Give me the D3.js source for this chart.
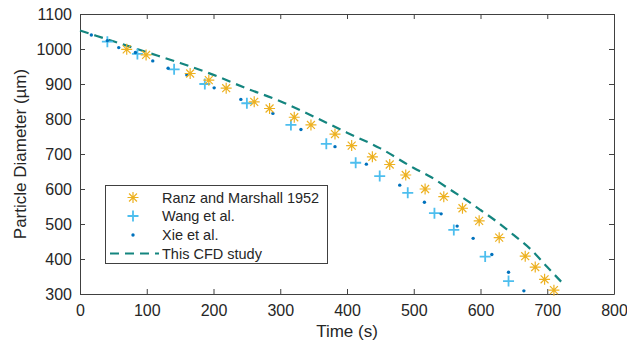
<!DOCTYPE html>
<html>
<head>
<meta charset="utf-8">
<script src="https://cdn.jsdelivr.net/npm/d3@7"></script>
<style>
  body { margin: 0; background: #fff; }
  text { font-family: "Liberation Sans", Arial, sans-serif; fill: #262626; }
  .axis path, .axis line { stroke: #404040; }
</style>
</head>
<body>
<div id="chart"></div>
<script>
// Ranz and Marshall 1952
var ranzT = [70, 99, 165, 193, 219, 261, 284, 321, 346, 382, 407, 438, 464, 488, 517, 545, 573, 598, 628, 667, 682, 696, 710];
var ranzD = [999, 983, 930, 911, 888, 849, 830, 805, 783, 757, 724, 692, 670, 640, 600, 578, 545, 509, 461, 408, 377, 342, 311];
// Wang et al.
var wangT = [41, 86, 141, 187, 250, 316, 369, 413, 449, 491, 531, 560, 607, 642];
var wangD = [1021, 986, 942, 900, 845, 783, 729, 675, 637, 589, 531, 483, 407, 337];
// Xie et al.
var xieT = [17, 41, 58, 83, 109, 132, 160, 201, 241, 289, 331, 382, 429, 479, 516, 541, 565, 589, 617, 642, 665];
var xieD = [1040, 1024, 1004, 990, 966, 945, 926, 889, 856, 816, 770, 721, 671, 611, 562, 529, 494, 459, 413, 362, 309];
// This CFD study
var cfdT = [0, 50, 100, 150, 200, 250, 300, 350, 400, 450, 500, 525, 550, 575, 600, 625, 650, 675, 700, 722];
var cfdD = [1053, 1022, 991, 960, 926, 887, 851, 807, 761, 716, 660, 635, 604, 573, 540, 506, 468, 428, 377, 333];

var xTicks = [0, 100, 200, 300, 400, 500, 600, 700, 800];
var yTicks = [300, 400, 500, 600, 700, 800, 900, 1000, 1100];
var legendLabels = ["Ranz and Marshall 1952", "Wang et al.", "Xie et al.", "This CFD study"];

var colors = { ranz: "#EDB120", wang: "#4DBEEE", xie: "#0072BD", cfd: "#14857f" };

var margin = {top: 14, right: 13, bottom: 50, left: 80},
    width = 627 - margin.left - margin.right,
    height = 344 - margin.top - margin.bottom;

var x = d3.scaleLinear().domain([0, 800]).range([0, width]);
var y = d3.scaleLinear().domain([300, 1100]).range([height, 0]);

var svg = d3.select("#chart").append("svg")
    .attr("width", 627)
    .attr("height", 344)
  .append("g")
    .attr("transform", "translate(" + margin.left + "," + margin.top + ")");

// axes, ticks pointing inward, box on
svg.append("g")
    .attr("class", "axis")
    .attr("transform", "translate(0," + height + ")")
    .call(d3.axisBottom(x).tickValues(xTicks).tickFormat(d3.format("d")).tickSizeInner(-5).tickSizeOuter(0).tickPadding(11))
    .call(function(g) { g.selectAll("text").style("font-size", "16px"); });

svg.append("g")
    .attr("class", "axis")
    .call(d3.axisLeft(y).tickValues(yTicks).tickFormat(d3.format("d")).tickSizeInner(-5).tickSizeOuter(0).tickPadding(8))
    .call(function(g) { g.selectAll("text").style("font-size", "16px"); });

svg.append("g")
    .attr("class", "axis")
    .call(d3.axisTop(x).tickValues(xTicks).tickSizeInner(-5).tickSizeOuter(0).tickFormat(""));

svg.append("g")
    .attr("class", "axis")
    .attr("transform", "translate(" + width + ",0)")
    .call(d3.axisRight(y).tickValues(yTicks).tickSizeInner(-5).tickSizeOuter(0).tickFormat(""));

svg.append("text")
    .attr("x", width / 2)
    .attr("y", height + 42.5)
    .attr("text-anchor", "middle")
    .style("font-size", "17px")
    .text("Time (s)");

svg.append("text")
    .attr("transform", "rotate(-90)")
    .attr("x", -height / 2)
    .attr("y", -54)
    .attr("text-anchor", "middle")
    .style("font-size", "17px")
    .text("Particle Diameter (\u00b5m)");

// marker shapes
function asterisk(r) {
  var d = r * 0.72;
  return "M" + (-r) + ",0L" + r + ",0M0," + (-r) + "L0," + r +
         "M" + (-d) + "," + (-d) + "L" + d + "," + d +
         "M" + (-d) + "," + d + "L" + d + "," + (-d);
}
function plus(r) {
  return "M" + (-r) + ",0L" + r + ",0M0," + (-r) + "L0," + r;
}

var plot = svg.append("g");

// CFD line
var line = d3.line()
    .x(function(d, i) { return x(cfdT[i]); })
    .y(function(d) { return y(d); })
    .curve(d3.curveMonotoneX);

plot.append("path")
    .datum(cfdD)
    .attr("d", line)
    .attr("fill", "none")
    .attr("stroke", colors.cfd)
    .attr("stroke-width", 2.2)
    .attr("stroke-dasharray", "9,6");

plot.selectAll(".wang")
    .data(wangD)
  .enter().append("path")
    .attr("class", "wang")
    .attr("transform", function(d, i) { return "translate(" + x(wangT[i]) + "," + y(d) + ")"; })
    .attr("d", plus(5.5))
    .attr("stroke", colors.wang)
    .attr("stroke-width", 1.8);

plot.selectAll(".xie")
    .data(xieD)
  .enter().append("circle")
    .attr("class", "xie")
    .attr("cx", function(d, i) { return x(xieT[i]); })
    .attr("cy", function(d) { return y(d); })
    .attr("r", 1.7)
    .attr("fill", colors.xie);

plot.selectAll(".ranz")
    .data(ranzD)
  .enter().append("path")
    .attr("class", "ranz")
    .attr("transform", function(d, i) { return "translate(" + x(ranzT[i]) + "," + y(d) + ")"; })
    .attr("d", asterisk(5.5))
    .attr("stroke", colors.ranz)
    .attr("stroke-width", 1.2);

// legend
var legend = svg.append("g")
    .attr("transform", "translate(" + (105 - margin.left) + "," + (185 - margin.top) + ")");

legend.append("rect")
    .attr("x", 0.5)
    .attr("y", 0.5)
    .attr("width", 222)
    .attr("height", 78)
    .attr("fill", "#fff")
    .attr("stroke", "#404040")
    .attr("stroke-width", 1);

var rowY = [12.5, 31, 50, 68.5];

legend.append("path")
    .attr("transform", "translate(28," + rowY[0] + ")")
    .attr("d", asterisk(5.5))
    .attr("stroke", colors.ranz)
    .attr("stroke-width", 1.2);
legend.append("path")
    .attr("transform", "translate(28," + rowY[1] + ")")
    .attr("d", plus(5.5))
    .attr("stroke", colors.wang)
    .attr("stroke-width", 1.8);
legend.append("circle")
    .attr("cx", 28)
    .attr("cy", rowY[2])
    .attr("r", 1.7)
    .attr("fill", colors.xie);
legend.append("line")
    .attr("x1", 5).attr("x2", 54)
    .attr("y1", rowY[3]).attr("y2", rowY[3])
    .attr("stroke", colors.cfd)
    .attr("stroke-width", 2.2)
    .attr("stroke-dasharray", "9,6");

legend.selectAll(".ltext")
    .data(legendLabels)
  .enter().append("text")
    .attr("class", "ltext")
    .attr("x", 57)
    .attr("y", function(d, i) { return rowY[i]; })
    .attr("dy", "0.35em")
    .style("font-size", "14.5px")
    .text(function(d) { return d; });
</script>
</body>
</html>
